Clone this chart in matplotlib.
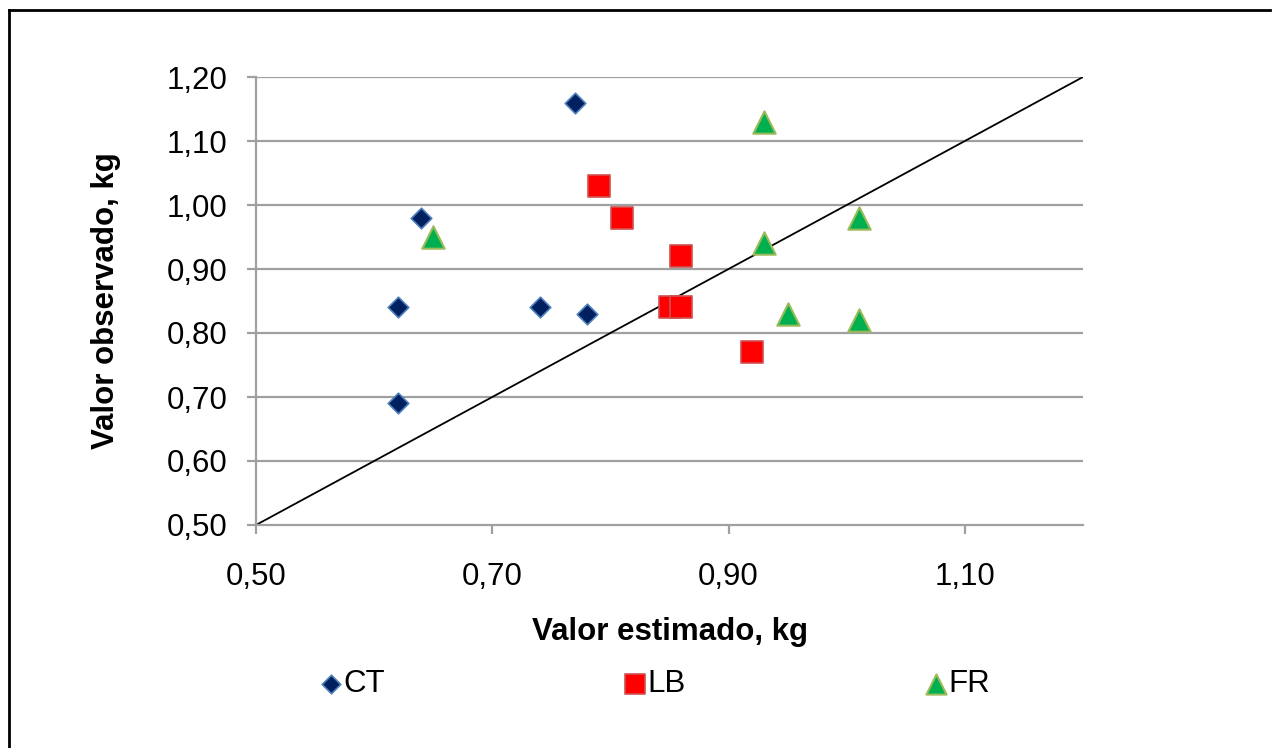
import numpy as np
import matplotlib
matplotlib.use('Agg')
import matplotlib.pyplot as plt
from matplotlib.lines import Line2D

plt.rcParams['font.family'] = ['Liberation Sans', 'DejaVu Sans']

# valores
ct_x = [0.77, 0.64, 0.62, 0.74, 0.78, 0.62]
ct_y = [1.16, 0.98, 0.84, 0.84, 0.83, 0.69]
lb_x = [0.79, 0.81, 0.86, 0.85, 0.86, 0.92]
lb_y = [1.03, 0.98, 0.92, 0.84, 0.84, 0.77]
fr_x = [0.93, 0.65, 0.93, 1.01, 0.95, 1.01]
fr_y = [1.13, 0.95, 0.94, 0.98, 0.83, 0.82]
linha = [0.50, 1.20]
ticks_x = [0.50, 0.70, 0.90, 1.10]
ticks_y = [0.50, 0.60, 0.70, 0.80, 0.90, 1.00, 1.10, 1.20]

fig = plt.figure(figsize=(12.75, 7.48), dpi=100)
ax = fig.add_axes([256/1275, 1 - 525/748, (1083-256)/1275, (525-77)/748])

for y in ticks_y[1:]:
    ax.axhline(y, color='#a0a0a0', lw=1.6, zorder=0)

ax.plot(linha, linha, color='black', lw=1.3, zorder=1)

ax.scatter(ct_x, ct_y, marker='D', s=110, c='#002060', edgecolors='#4f81bd', linewidths=1.2, zorder=3, label='CT')
ax.scatter(lb_x, lb_y, marker='s', s=260, c='#ff0000', edgecolors='#d05050', linewidths=1.2, zorder=3, label='LB')
ax.scatter(fr_x, fr_y, marker='^', s=260, c='#00b050', edgecolors='#9bbb59', linewidths=1.5, zorder=3, label='FR')

ax.set_xlim(0.5, 1.2)
ax.set_ylim(0.5, 1.2)
ax.set_xticks(ticks_x)
ax.set_yticks(ticks_y)
ax.set_xticklabels([f'{v:.2f}'.replace('.', ',') for v in ticks_x])
ax.set_yticklabels([f'{v:.2f}'.replace('.', ',') for v in ticks_y])
ax.tick_params(labelsize=22.5, length=6.5, width=1.6, color='#a0a0a0')
ax.tick_params(axis='y', pad=14)
ax.tick_params(axis='x', pad=20)

for s in ['top', 'right']:
    ax.spines[s].set_visible(False)
for s in ['left', 'bottom']:
    ax.spines[s].set_color('#a0a0a0')
    ax.spines[s].set_linewidth(1.6)

ax.set_xlabel('Valor estimado, kg', fontsize=22.5, fontweight='bold', labelpad=18)
ax.set_ylabel('Valor observado, kg', fontsize=22.5, fontweight='bold', labelpad=33)

fig.legend(loc='center', bbox_to_anchor=(651/1275, 1 - 684/748), ncol=3, frameon=False,
           fontsize=22.5, handletextpad=-0.2, handlelength=1.2, columnspacing=7.4, markerscale=0.9)

# moldura
fig.add_artist(Line2D([9/1275, 1270/1275], [1 - 10/748, 1 - 10/748], transform=fig.transFigure, color='black', lw=2))
fig.add_artist(Line2D([9/1275, 9/1275], [1 - 10/748, 0], transform=fig.transFigure, color='black', lw=2))

fig.savefig('out.png', dpi=100)
